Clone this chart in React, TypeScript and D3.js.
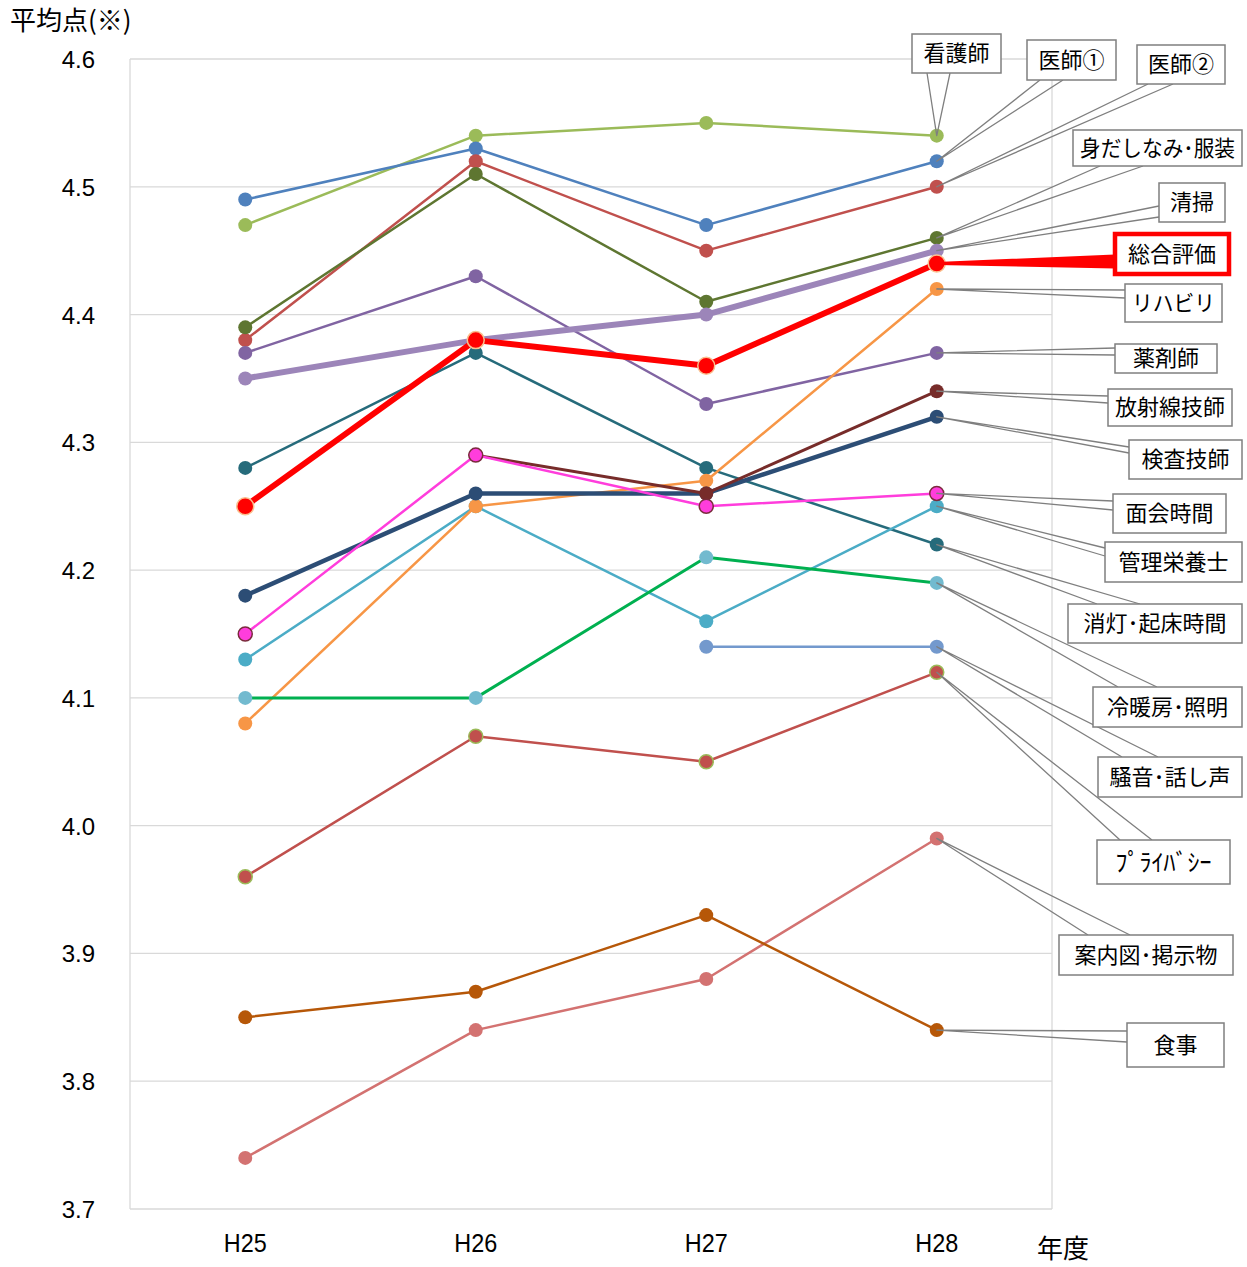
import { useEffect, useRef } from "react";
import * as d3 from "d3";

// 年度
const years = ["H25", "H26", "H27", "H28"];
const yTicks = [4.6, 4.5, 4.4, 4.3, 4.2, 4.1, 4.0, 3.9, 3.8, 3.7];

// series (draw order: later ones on top)
const seriesNames = [
  "看護師", "医師①", "医師②", "身だしなみ･服装", "薬剤師", "消灯･起床時間",
  "管理栄養士", "リハビリ", "検査技師", "放射線技師", "面会時間", "冷暖房･照明",
  "騒音･話し声", "ﾌﾟﾗｲﾊﾞｼｰ", "案内図･掲示物", "食事", "清掃", "総合評価",
];

const seriesValues: (number | null)[][] = [
  [4.47, 4.54, 4.55, 4.54],
  [4.49, 4.53, 4.47, 4.52],
  [4.38, 4.52, 4.45, 4.50],
  [4.39, 4.51, 4.41, 4.46],
  [4.37, 4.43, 4.33, 4.37],
  [4.28, 4.37, 4.28, 4.22],
  [4.13, 4.25, 4.16, 4.25],
  [4.08, 4.25, 4.27, 4.42],
  [4.18, 4.26, 4.26, 4.32],
  [null, 4.29, 4.26, 4.34],
  [4.15, 4.29, 4.25, 4.26],
  [4.10, 4.10, 4.21, 4.19],
  [null, null, 4.14, 4.14],
  [3.96, 4.07, 4.05, 4.12],
  [3.74, 3.84, 3.88, 3.99],
  [3.85, 3.87, 3.93, 3.84],
  [4.35, 4.38, 4.40, 4.45],
  [4.25, 4.38, 4.36, 4.44],
];

// line / marker styles
type Style = { line: string; width: number; fill: string; stroke?: string; r?: number };
const styles: Record<string, Style> = {
  "看護師": { line: "#9BBB59", width: 2.5, fill: "#9BBB59" },
  "医師①": { line: "#4F81BD", width: 2.5, fill: "#4F81BD" },
  "医師②": { line: "#C0504D", width: 2.5, fill: "#C0504D" },
  "身だしなみ･服装": { line: "#5E7631", width: 2.5, fill: "#5E7631" },
  "薬剤師": { line: "#8064A2", width: 2.5, fill: "#8064A2" },
  "消灯･起床時間": { line: "#266B7B", width: 2.5, fill: "#266B7B" },
  "管理栄養士": { line: "#4BACC6", width: 2.5, fill: "#4BACC6" },
  "リハビリ": { line: "#F79646", width: 2.5, fill: "#F79646" },
  "検査技師": { line: "#2C4D75", width: 4.5, fill: "#2C4D75" },
  "放射線技師": { line: "#772C2A", width: 3, fill: "#772C2A" },
  "面会時間": { line: "#FF3DDC", width: 2.5, fill: "#FF3DDC", stroke: "#7A2C3C" },
  "冷暖房･照明": { line: "#00B050", width: 3, fill: "#72BACF" },
  "騒音･話し声": { line: "#7399CD", width: 2.5, fill: "#7399CD" },
  "ﾌﾟﾗｲﾊﾞｼｰ": { line: "#C0504D", width: 2.5, fill: "#C0504D", stroke: "#9BBB59" },
  "案内図･掲示物": { line: "#D37271", width: 2.5, fill: "#D37271" },
  "食事": { line: "#B65708", width: 2.5, fill: "#B65708" },
  "清掃": { line: "#9C85B9", width: 6, fill: "#9C85B9" },
  "総合評価": { line: "#FF0000", width: 6, fill: "#FF0000", stroke: "#FAC090", r: 8.5 },
};

// callout boxes: [x, y, w, h] and the two base points of the leader wedge
const callouts: Record<string, { box: number[]; base: number[][] }> = {
  "看護師": { box: [912, 34, 89, 39], base: [[927, 73], [950, 73]] },
  "医師①": { box: [1027, 40, 89, 40], base: [[1040, 80], [1063, 80]] },
  "医師②": { box: [1137, 45, 88, 39], base: [[1148, 84], [1173, 84]] },
  "身だしなみ･服装": { box: [1073, 130, 169, 36], base: [[1100, 166], [1143, 166]] },
  "清掃": { box: [1159, 183, 66, 39], base: [[1159, 206], [1159, 217]] },
  "総合評価": { box: [1115, 234, 114, 40], base: [[1115, 256], [1115, 267]] },
  "リハビリ": { box: [1125, 284, 97, 38], base: [[1125, 290], [1125, 298]] },
  "薬剤師": { box: [1115, 344, 102, 29], base: [[1115, 348], [1115, 355]] },
  "放射線技師": { box: [1108, 389, 124, 37], base: [[1108, 396], [1108, 403]] },
  "検査技師": { box: [1129, 440, 113, 39], base: [[1129, 447], [1129, 453]] },
  "面会時間": { box: [1113, 494, 113, 39], base: [[1113, 501], [1113, 510]] },
  "管理栄養士": { box: [1105, 542, 137, 40], base: [[1105, 548], [1105, 556]] },
  "消灯･起床時間": { box: [1068, 604, 174, 39], base: [[1097, 604], [1140, 604]] },
  "冷暖房･照明": { box: [1093, 687, 149, 40], base: [[1118, 687], [1157, 687]] },
  "騒音･話し声": { box: [1098, 757, 144, 40], base: [[1122, 757], [1158, 757]] },
  "ﾌﾟﾗｲﾊﾞｼｰ": { box: [1097, 840, 133, 44], base: [[1120, 840], [1152, 840]] },
  "案内図･掲示物": { box: [1059, 935, 174, 40], base: [[1088, 935], [1130, 935]] },
  "食事": { box: [1127, 1023, 97, 44], base: [[1127, 1031], [1127, 1042]] },
};

const W = 1247;
const H = 1267;
const plot = { left: 130, right: 1052, top: 59, bottom: 1209 };
const JP = "'Noto Sans CJK JP', 'Noto Sans', sans-serif";
const NUM = "'Liberation Sans', Arial, sans-serif";

export default function App() {
  const svgRef = useRef<SVGSVGElement>(null);

  useEffect(() => {
    if (!svgRef.current) return;
    document.body.style.margin = "0";

    const svg = d3.select(svgRef.current);
    svg.selectAll("*").remove();
    svg.attr("width", W).attr("height", H).style("background", "#fff");

    const x = d3.scaleBand<string>().domain(years).range([plot.left, plot.right]);
    const xc = (yr: string) => (x(yr) ?? 0) + x.bandwidth() / 2;
    const y = d3.scaleLinear().domain([3.7, 4.6]).range([plot.bottom, plot.top]);

    // grid + plot frame
    const grid = svg.append("g");
    grid.selectAll("line")
      .data(yTicks)
      .enter()
      .append("line")
      .attr("x1", plot.left)
      .attr("x2", plot.right)
      .attr("y1", (d) => y(d))
      .attr("y2", (d) => y(d))
      .attr("stroke", "#D9D9D9")
      .attr("stroke-width", 1.3);
    [plot.left, plot.right].forEach((px) => {
      grid.append("line")
        .attr("x1", px).attr("x2", px)
        .attr("y1", plot.top).attr("y2", plot.bottom)
        .attr("stroke", "#D9D9D9").attr("stroke-width", 1.3);
    });

    // y tick labels
    svg.append("g")
      .selectAll("text")
      .data(yTicks)
      .enter()
      .append("text")
      .attr("x", 95)
      .attr("y", (d) => y(d) + 9)
      .attr("text-anchor", "end")
      .attr("font-family", NUM)
      .attr("font-size", 24)
      .attr("fill", "#000")
      .text((d) => d.toFixed(1));

    // x tick labels
    svg.append("g")
      .selectAll("text")
      .data(years)
      .enter()
      .append("text")
      .attr("x", (d) => xc(d))
      .attr("y", 1252)
      .attr("text-anchor", "middle")
      .attr("font-family", NUM)
      .attr("font-size", 26)
      .attr("transform", (d) => `translate(${xc(d)},0) scale(0.9,1) translate(${-xc(d)},0)`)
      .attr("fill", "#000")
      .text((d) => d);

    // axis titles
    svg.append("text")
      .attr("x", 10).attr("y", 30)
      .attr("font-family", JP).attr("font-size", 26)
      .attr("fill", "#000")
      .text("平均点(※)");
    svg.append("text")
      .attr("x", 1037).attr("y", 1258)
      .attr("font-family", JP).attr("font-size", 26)
      .attr("fill", "#000")
      .text("年度");

    // series
    const line = d3.line<number | null>()
      .defined((d) => d != null)
      .x((_, i) => xc(years[i]))
      .y((d) => y(d as number));

    const series = svg.append("g");
    seriesNames.forEach((name, si) => {
      const st = styles[name];
      const vals = seriesValues[si];
      const g = series.append("g");
      g.append("path")
        .attr("d", line(vals) ?? "")
        .attr("fill", "none")
        .attr("stroke", st.line)
        .attr("stroke-width", st.width)
        .attr("stroke-linejoin", "round");
      g.selectAll("circle")
        .data(vals.map((v, i) => ({ v, i })).filter((d) => d.v != null))
        .enter()
        .append("circle")
        .attr("cx", (d) => xc(years[d.i]))
        .attr("cy", (d) => y(d.v as number))
        .attr("r", st.r ?? 7)
        .attr("fill", st.fill)
        .attr("stroke", st.stroke ?? "none")
        .attr("stroke-width", st.stroke ? 1.5 : 0);
    });

    // callouts: leader wedges first, then the boxes
    const labels = svg.append("g");
    seriesNames.forEach((name, si) => {
      const c = callouts[name];
      if (!c) return;
      const vals = seriesValues[si];
      const tip = [xc(years[3]), y(vals[3] as number)];
      const isTotal = name === "総合評価";
      const [b1, b2] = c.base;
      labels.append("path")
        .attr("d", `M${b1[0]},${b1[1]}L${tip[0]},${tip[1]}L${b2[0]},${b2[1]}${isTotal ? "Z" : ""}`)
        .attr("fill", isTotal ? "#FF0000" : "none")
        .attr("stroke", isTotal ? "#FF0000" : "#7F7F7F")
        .attr("stroke-width", isTotal ? 3 : 1.3)
        .attr("stroke-linejoin", "round");
    });
    seriesNames.forEach((name) => {
      const c = callouts[name];
      if (!c) return;
      const [bx, by, bw, bh] = c.box;
      const isTotal = name === "総合評価";
      labels.append("rect")
        .attr("x", bx).attr("y", by)
        .attr("width", bw).attr("height", bh)
        .attr("fill", "#fff")
        .attr("stroke", isTotal ? "#FF0000" : "#7F7F7F")
        .attr("stroke-width", isTotal ? 4.5 : 1.5);
      const t = labels.append("text")
        .attr("x", bx + bw / 2)
        .attr("y", by + bh / 2)
        .attr("dy", "0.36em")
        .attr("text-anchor", "middle")
        .attr("font-family", JP)
        .attr("font-size", name === "ﾌﾟﾗｲﾊﾞｼｰ" ? 24 : 22)
        .attr("fill", "#000")
        .text(name);
      const node = t.node() as SVGTextElement;
      const len = node.getComputedTextLength();
      if (len > bw - 14) {
        t.attr("textLength", bw - 14).attr("lengthAdjust", "spacingAndGlyphs");
      }
    });
  }, []);

  return <svg ref={svgRef} style={{ display: "block" }} />;
}
